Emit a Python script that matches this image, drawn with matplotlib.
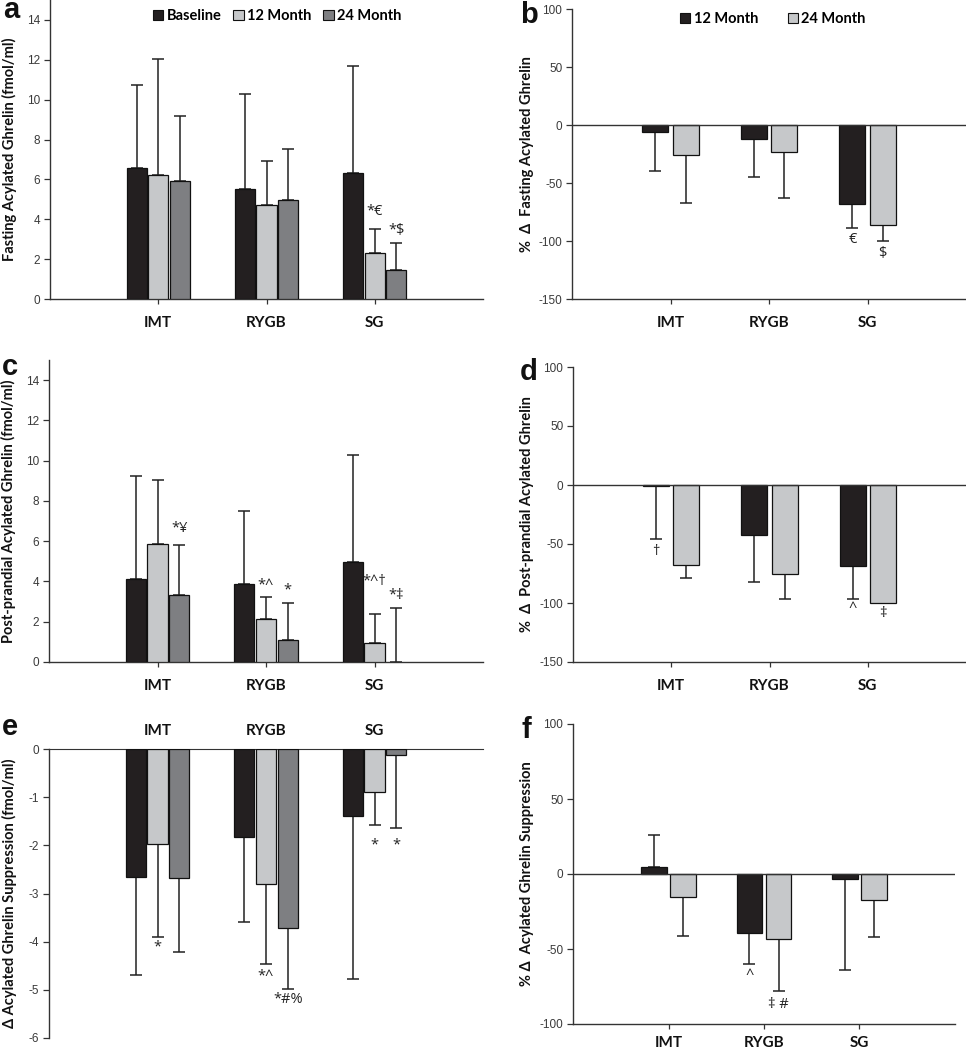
import matplotlib
matplotlib.use("Agg")
import matplotlib.pyplot as plt
from matplotlib.patches import Patch
import numpy as np

# ---------------- data ----------------
groups = ["IMT", "RYGB", "SG"]

# panel a: fasting acylated ghrelin (fmol/ml)
a_baseline = [6.55, 5.5, 6.3]
a_m12 = [6.2, 4.7, 2.3]
a_m24 = [5.9, 4.95, 1.45]
a_baseline_sd = [4.2, 4.8, 5.4]
a_m12_sd = [5.85, 2.2, 1.2]
a_m24_sd = [3.3, 2.6, 1.35]

# panel b: % change fasting
b_m12 = [-6, -12, -68]
b_m24 = [-26, -23, -86]
b_m12_sd = [34, 33, 21]
b_m24_sd = [41, 40, 14]

# panel c: post-prandial acylated ghrelin
c_baseline = [4.1, 3.85, 4.95]
c_m12 = [5.85, 2.15, 0.95]
c_m24 = [3.35, 1.1, 0.0]
c_baseline_sd = [5.15, 3.65, 5.35]
c_m12_sd = [3.2, 1.1, 1.45]
c_m24_sd = [2.45, 1.85, 2.7]

# panel d: % change post-prandial
d_m12 = [-1, -42, -69]
d_m24 = [-68, -75, -100]
d_m12_sd = [45, 40, 28]
d_m24_sd = [11, 22, 0]

# panel e: delta acylated ghrelin suppression
e_baseline = [-2.65, -1.82, -1.4]
e_m12 = [-1.97, -2.8, -0.9]
e_m24 = [-2.68, -3.72, -0.13]
e_baseline_sd = [2.05, 1.78, 3.37]
e_m12_sd = [1.93, 1.67, 0.67]
e_m24_sd = [1.54, 1.26, 1.52]

# panel f: % change suppression
f_m12 = [5, -39, -3]
f_m24 = [-15, -43, -17]
f_m12_sd = [21, 21, 61]
f_m24_sd = [26, 35, 25]

# annotations: (group index, series index, text, y value)
a_notes = [(2, 1, "*€", 4.37), (2, 2, "*$", 3.46)]
b_notes = [(2, 0, "€", -99), (2, 1, "$", -111)]
c_notes = [(0, 2, "*¥", 6.63), (1, 1, "*^", 3.81), (1, 2, "*", 3.56),
           (2, 1, "*^†", 4.02), (2, 2, "*‡", 3.32)]
d_notes = [(0, 0, "†", -56.5), (2, 0, "^", -105), (2, 1, "‡", -109)]
e_notes = [(0, 1, "*", -4.11), (1, 1, "*^", -4.72), (1, 2, "*#%", -5.2),
           (2, 1, "*", -2.0), (2, 2, "*", -2.0)]
f_notes = [(1, 0, "^", -67.5), (1, 1, "‡ #", -87)]

legend3 = ["Baseline", "12 Month", "24 Month"]
legend2 = ["12 Month", "24 Month"]

# ---------------- style ----------------
C_BLACK = "#231f20"
C_LIGHT = "#c6c8ca"
C_DARK = "#7e7f82"
SPINE = "#333333"
TICKCOL = "#3a3a3a"
BOLD_FAM = ["Lato", "DejaVu Sans"]
NOTE_FAM = ["Open Sans", "DejaVu Sans"]
TICK_FAM = ["Liberation Sans", "DejaVu Sans"]

W, H = 966, 1050
fig = plt.figure(figsize=(W / 100, H / 100), dpi=100)


def px_axes(l, t, r, b):
    return fig.add_axes([l / W, 1 - b / H, (r - l) / W, (b - t) / H])


x = np.arange(1, len(groups) + 1)


def draw_bars(ax, series, sds, colors, width, offsets):
    for vals, sd, col, off in zip(series, sds, colors, offsets):
        vals = np.asarray(vals, float)
        sd = np.asarray(sd, float)
        bars = ax.bar(x + off, vals, width, color=col, edgecolor="#111111",
                      linewidth=0.9, zorder=3)
        for p, v in zip(bars.patches, vals):
            if v == 0:
                p.set_linewidth(0)
        up = np.where(vals >= 0, sd, 0)
        dn = np.where(vals < 0, sd, 0)
        mask = sd > 0
        ax.errorbar((x + off)[mask], vals[mask], yerr=[dn[mask], up[mask]],
                    fmt="none", ecolor="#222222", elinewidth=1.1,
                    capsize=4.5, capthick=1.1, zorder=2)


def add_notes(ax, notes, offsets):
    for gi, si, txt, yv in notes:
        ax.text(x[gi] + offsets[si], yv, txt, ha="center", va="center",
                fontsize=10.5, family=NOTE_FAM, color="#222222", zorder=5)


def style_axes(ax, ylab, yticks, ylim, label_px, top_labels=False, xpad=9):
    ax.set_xlim(0, 4)
    ax.set_ylim(*ylim)
    ax.set_yticks(yticks)
    ax.set_yticklabels([str(v) for v in yticks], family=TICK_FAM,
                       fontsize=8.5, color=TICKCOL)
    for s in ["top", "right"]:
        ax.spines[s].set_visible(False)
    ax.spines["left"].set_color(SPINE)
    ax.spines["bottom"].set_color(SPINE)
    ax.spines["left"].set_linewidth(1.0)
    ax.spines["bottom"].set_linewidth(1.0)
    ax.tick_params(axis="y", direction="out", length=4, width=0.9,
                   color=SPINE, pad=3)
    ax.set_xticks(x)
    ax.set_xticklabels(groups, fontsize=11, fontweight="bold",
                       family=BOLD_FAM, color="#111111")
    if top_labels:
        ax.spines["bottom"].set_visible(False)
        ax.spines["top"].set_visible(True)
        ax.spines["top"].set_color(SPINE)
        ax.xaxis.set_ticks_position("top")
        ax.xaxis.set_label_position("top")
        ax.tick_params(axis="x", length=0, pad=8)
    else:
        ax.tick_params(axis="x", direction="out", length=3.5, width=0.9,
                       color=SPINE, pad=xpad)
    ax.set_ylabel(ylab, fontsize=10.5, fontweight="bold", family=BOLD_FAM,
                  color="#111111", va="center")
    bb = ax.get_position()
    x0 = bb.x0 * W
    wpx = bb.width * W
    ax.yaxis.set_label_coords((label_px - x0) / wpx, 0.5)


off3 = [-0.2, 0.0, 0.2]
off2 = [-0.153, 0.153]
w3 = 0.185
w2 = 0.265

# ---- panel a ----
axa = px_axes(50, 0, 483, 299)
draw_bars(axa, [a_baseline, a_m12, a_m24], [a_baseline_sd, a_m12_sd, a_m24_sd],
          [C_BLACK, C_LIGHT, C_DARK], w3, off3)
add_notes(axa, a_notes, off3)
style_axes(axa, "Fasting Acylated Ghrelin (fmol/ml)", list(range(0, 15, 2)),
           (0, 15), 9)
h3 = [Patch(facecolor=c, edgecolor="#111111", linewidth=0.8)
      for c in [C_BLACK, C_LIGHT, C_DARK]]
axa.legend(h3, legend3, loc="center", bbox_to_anchor=(0.525, 0.945), ncol=3,
           frameon=False, handlelength=0.7, handleheight=0.7,
           handletextpad=0.25, columnspacing=0.8,
           prop={"family": BOLD_FAM, "weight": "bold", "size": 10.5})

# ---- panel b ----
axb = px_axes(572, 9, 966, 299)
draw_bars(axb, [b_m12, b_m24], [b_m12_sd, b_m24_sd], [C_BLACK, C_LIGHT],
          w2, off2)
axb.axhline(0, color=SPINE, linewidth=1.0, zorder=4)
add_notes(axb, b_notes, off2)
style_axes(axb, "%  \u0394  Fasting Acylated Ghrelin", [-150, -100, -50, 0, 50, 100],
           (-150, 100), 527)
h2 = [Patch(facecolor=c, edgecolor="#111111", linewidth=0.8)
      for c in [C_BLACK, C_LIGHT]]
axb.legend(h2, legend2, loc="center", bbox_to_anchor=(0.51, 0.965), ncol=2,
           frameon=False, handlelength=0.7, handleheight=0.7,
           handletextpad=0.25, columnspacing=2.0,
           prop={"family": BOLD_FAM, "weight": "bold", "size": 10.5})

# ---- panel c ----
axc = px_axes(49, 360, 483, 662)
draw_bars(axc, [c_baseline, c_m12, c_m24], [c_baseline_sd, c_m12_sd, c_m24_sd],
          [C_BLACK, C_LIGHT, C_DARK], w3, off3)
add_notes(axc, c_notes, off3)
style_axes(axc, "Post-prandial Acylated Ghrelin (fmol/ml)", list(range(0, 15, 2)),
           (0, 15), 8)

# ---- panel d ----
axd = px_axes(573, 367, 966, 662)
draw_bars(axd, [d_m12, d_m24], [d_m12_sd, d_m24_sd], [C_BLACK, C_LIGHT],
          w2, off2)
axd.axhline(0, color=SPINE, linewidth=1.0, zorder=4)
add_notes(axd, d_notes, off2)
style_axes(axd, "%  \u0394  Post-prandial Acylated Ghrelin",
           [-150, -100, -50, 0, 50, 100], (-150, 100), 527)

# ---- panel e ----
axe = px_axes(49, 749, 483, 1038)
draw_bars(axe, [e_baseline, e_m12, e_m24], [e_baseline_sd, e_m12_sd, e_m24_sd],
          [C_BLACK, C_LIGHT, C_DARK], w3, off3)
add_notes(axe, e_notes, off3)
style_axes(axe, "\u0394 Acylated Ghrelin Suppression (fmol/ml)",
           [-6, -5, -4, -3, -2, -1, 0], (-6, 0), 9, top_labels=True)

# ---- panel f ----
axf = px_axes(573, 724, 955, 1024)
draw_bars(axf, [f_m12, f_m24], [f_m12_sd, f_m24_sd], [C_BLACK, C_LIGHT],
          w2, off2)
axf.axhline(0, color=SPINE, linewidth=1.0, zorder=4)
add_notes(axf, f_notes, off2)
style_axes(axf, "% \u0394  Acylated Ghrelin Suppression",
           [-100, -50, 0, 50, 100], (-100, 100), 527, xpad=5)

# panel letters
for letter, xp, yp in [("a", 3, 18), ("b", 520, 23), ("c", 2, 375),
                       ("d", 520, 380), ("e", 2, 735), ("f", 521, 738)]:
    fig.text(xp / W, 1 - yp / H, letter, fontsize=21, fontweight="bold",
             family=["Liberation Sans", "DejaVu Sans"], ha="left",
             va="baseline", color="#111111")

fig.savefig("out.png", dpi=100)
